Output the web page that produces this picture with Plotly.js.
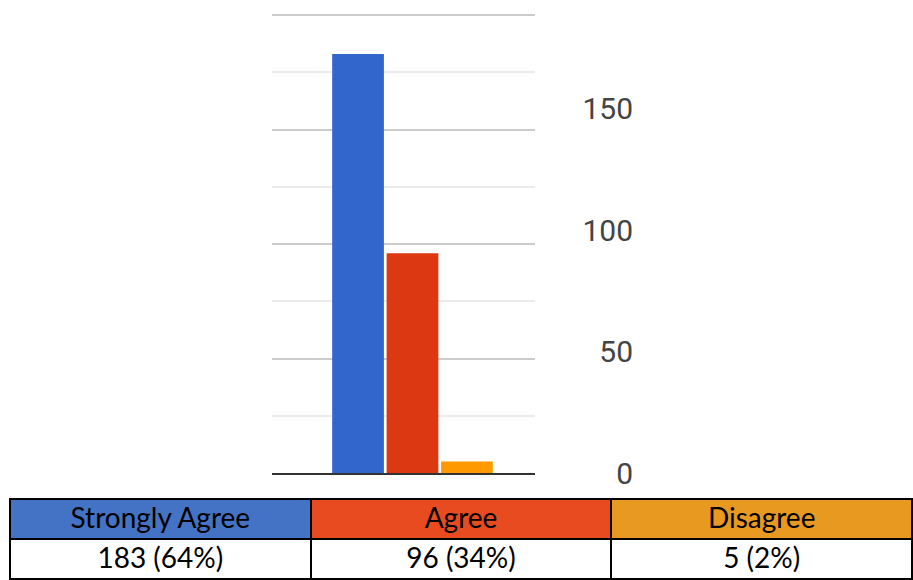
<!DOCTYPE html>
<html>
<head>
<meta charset="utf-8">
<script src="https://cdn.plot.ly/plotly-3.0.1.min.js"></script>
<style>html,body{margin:0;padding:0;background:#fff;}#chart{width:913px;height:580px;}</style>
</head>
<body>
<div id="chart"></div>
<script>
const categories = ["Strongly Agree", "Agree", "Disagree"];
const counts = [183, 96, 5];
const percents = [64, 34, 2];
const barColors = ["#3366CC", "#DC3912", "#FF9900"];
const headerColors = ["#4472C4", "#E84B20", "#E8991F"];
const axisTickValues = [0, 50, 100, 150];

const W = 913, H = 580;
const cellText = counts.map((c, i) => c + " (" + percents[i] + "%)");

const barTrace = {
  type: "bar",
  x: categories,
  y: counts,
  marker: {color: barColors},
  xaxis: "x",
  yaxis: "y",
  hoverinfo: "skip"
};

const labelTrace = {
  type: "scatter",
  mode: "markers",
  x: categories,
  y: counts,
  marker: {opacity: 0},
  xaxis: "x",
  yaxis: "y2",
  hoverinfo: "skip",
  showlegend: false
};

const tableFont = {family: "Lato, Open Sans, sans-serif", size: 28, color: "#000"};

const tableTrace = {
  type: "table",
  domain: {x: [10 / W, 912 / W], y: [0, 81 / H]},
  columnwidth: [1, 1, 1],
  header: {
    values: categories,
    height: 40,
    align: "center",
    fill: {color: headerColors},
    line: {color: "#000", width: 2},
    font: tableFont
  },
  cells: {
    values: cellText.map(t => [t]),
    height: 40,
    align: "center",
    fill: {color: "#fff"},
    line: {color: "#000", width: 2},
    font: tableFont
  }
};

const layout = {
  width: W,
  height: H,
  margin: {l: 0, r: 0, t: 0, b: 0},
  paper_bgcolor: "#fff",
  plot_bgcolor: "#fff",
  showlegend: false,
  bargap: 0.05,
  xaxis: {
    domain: [272 / W, 535 / W],
    range: [-1.58, 3.25],
    showticklabels: false,
    ticks: "",
    showgrid: false,
    showline: true,
    linecolor: "#333",
    linewidth: 2,
    zeroline: false,
    fixedrange: true
  },
  yaxis: {
    domain: [(H - 473) / H, (H - 13) / H],
    range: [0, 200.9],
    dtick: 50,
    showticklabels: false,
    ticks: "",
    showgrid: true,
    gridcolor: "#cccccc",
    gridwidth: 2,
    minor: {dtick: 25, showgrid: true, gridcolor: "#ebebeb", gridwidth: 2, ticks: ""},
    zeroline: false,
    showline: false,
    fixedrange: true
  },
  yaxis2: {
    overlaying: "y",
    anchor: "free",
    side: "left",
    position: 633 / W,
    range: [0, 189.5],
    tickvals: axisTickValues,
    showgrid: false,
    zeroline: false,
    showline: false,
    ticks: "",
    tickfont: {family: "Roboto, Liberation Sans, sans-serif", size: 30, color: "#444"},
    fixedrange: true
  }
};

Plotly.newPlot("chart", [barTrace, labelTrace, tableTrace], layout, {staticPlot: true, displayModeBar: false});
</script>
</body>
</html>
